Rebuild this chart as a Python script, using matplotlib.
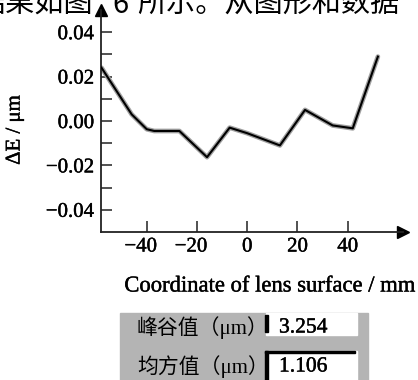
import matplotlib
matplotlib.use('Agg')
import matplotlib.pyplot as plt
import matplotlib.patheffects as pe
from matplotlib.patches import Rectangle
from matplotlib.transforms import ScaledTranslation

# data
coord = [-58, -46, -40, -37, -27, -16, -7, 0, 13, 23, 34, 42, 52]
delta_e = [0.024, 0.003, -0.0037, -0.0045, -0.0045, -0.0163, -0.003, -0.0055,
           -0.011, 0.005, -0.002, -0.0033, 0.029]
x_ticks = [-40, -20, 0, 20, 40]
y_ticks = [-0.04, -0.02, 0.00, 0.02, 0.04]
y_minor = [-0.03, -0.01, 0.01, 0.03]
stats_labels = ['峰谷值（μm）', '均方值（μm）']
stats_values = ['3.254', '1.106']
top_text = ['结果如图', '6', '所示。从图形和数据']

serif = ['Liberation Serif', 'DejaVu Serif']
cjk = ['Liberation Serif', 'Noto Sans CJK SC', 'DejaVu Sans']
cjk_sans = ['Noto Sans CJK SC', 'DejaVu Sans']
thick = [pe.withStroke(linewidth=0.3, foreground='black')]

W, H = 418, 380
fig = plt.figure(figsize=(W / 100, H / 100), dpi=100)

def fx(px):
    return px / W

def fy(py):
    return 1 - py / H

ax = fig.add_axes([fx(101), fy(232), fx(403) - fx(101), fy(10) - fy(232)])
ax.set_xlim(-58.2, 62)
ax.set_ylim(-0.05, 0.05)

# gray halo under the line, then the black line
ax.plot(coord, delta_e, color='#a0a0a0', lw=3.4, solid_capstyle='round', zorder=2)
ax.plot(coord, delta_e, color='black', lw=1.5, zorder=3)

for s in ['top', 'right']:
    ax.spines[s].set_visible(False)
for s in ['left', 'bottom']:
    ax.spines[s].set_linewidth(1.3)
    ax.spines[s].set_color('#222222')

ax.plot(1, 0, marker='>', color='black', markersize=9,
        transform=ax.transAxes, clip_on=False)
ax.plot(0, 1, marker='^', color='black', markersize=9,
        transform=ax.transAxes, clip_on=False)

ax.set_xticks(x_ticks)
ax.set_xticklabels([f'\u2212{abs(v)}' if v < 0 else str(v) for v in x_ticks])
ax.set_yticks(y_ticks)
ax.set_yticklabels([f'\u2212{abs(v):.2f}' if v < 0 else f'{v:.2f}' for v in y_ticks])
ax.set_yticks(y_minor, minor=True)
ax.tick_params(axis='both', which='both', direction='in', length=8, width=1.1,
               color='#222222')
ax.tick_params(axis='x', pad=4)
ax.tick_params(axis='y', pad=5)
for lab in ax.get_xticklabels() + ax.get_yticklabels():
    lab.set_family(serif)
    lab.set_fontsize(15)
    lab.set_path_effects(thick)
# digits of negative x labels sit over the tick, the minus hangs left
shift = ScaledTranslation(-6 / 100, 0, fig.dpi_scale_trans)
for lab, v in zip(ax.get_xticklabels(), x_ticks):
    if v < 0:
        lab.set_transform(lab.get_transform() + shift)

fig.text(fx(15), fy(130), 'ΔE / μm', rotation=90, ha='center', va='center',
         family=serif, fontsize=15, path_effects=thick)
fig.text(fx(270), fy(286), 'Coordinate of lens surface / mm', ha='center',
         va='center', family=serif, fontsize=16.3, path_effects=thick)

# cut-off line of body text at the top
fig.text(fx(93), fy(13), top_text[0], ha='right', va='baseline',
         family=cjk_sans, fontsize=21)
fig.text(fx(120), fy(13), top_text[1], ha='center', va='baseline',
         family=cjk_sans, fontsize=21)
fig.text(fx(137), fy(13), top_text[2], ha='left', va='baseline',
         family=cjk_sans, fontsize=21)

# stats panel
fig.patches.append(Rectangle((fx(120), 0), fx(368) - fx(120), fy(313),
                             transform=fig.transFigure, color='#b4b4b4', zorder=0))
fig.patches.append(Rectangle((fx(266), fy(335)), fx(357) - fx(266), fy(313) - fy(335),
                             transform=fig.transFigure, color='white', zorder=1))
fig.patches.append(Rectangle((fx(266), 0), fx(357) - fx(266), fy(351),
                             transform=fig.transFigure, color='white', zorder=1))
fig.patches.append(Rectangle((fx(265), fy(332)), fx(3), fy(315) - fy(332),
                             transform=fig.transFigure, color='black', zorder=2))
fig.patches.append(Rectangle((fx(265), 0), fx(3), fy(351),
                             transform=fig.transFigure, color='black', zorder=2))
fig.patches.append(Rectangle((fx(265), fy(353)), fx(355) - fx(265), fy(351) - fy(353),
                             transform=fig.transFigure, color='black', zorder=2))

row_y = [328, 367]
for lab, val, py in zip(stats_labels, stats_values, row_y):
    fig.text(fx(137), fy(py), lab, ha='left', va='center', family=cjk, fontsize=15)
    fig.text(fx(279), fy(py), val, ha='left', va='center', family=serif,
             fontsize=15.5, path_effects=thick)

fig.savefig('out.png', dpi=100)
